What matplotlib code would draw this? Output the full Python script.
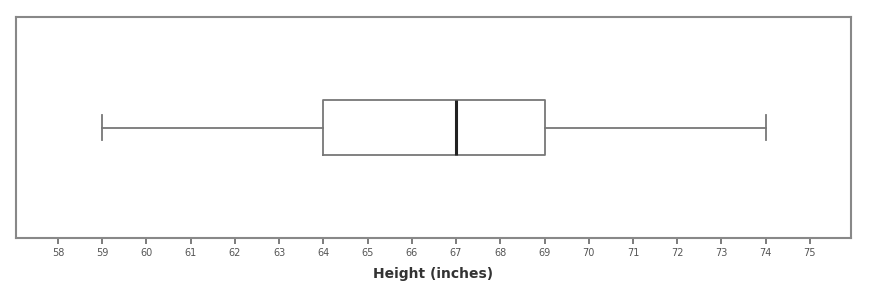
import matplotlib
matplotlib.use("Agg")
import matplotlib.pyplot as plt

# Resumen de cinco números
whisker_low = 59
q1 = 64
median = 67
q3 = 69
whisker_high = 74
tick_values = list(range(58, 76))

stats = [{"whislo": whisker_low, "q1": q1, "med": median, "q3": q3,
          "whishi": whisker_high, "fliers": [], "label": ""}]

fig = plt.figure(figsize=(8.75, 2.93), dpi=100)
ax = fig.add_axes([16 / 875, 1 - 238 / 293, 835 / 875, 221 / 293])

grey = "#777777"
ax.bxp(stats, positions=[0.5], widths=0.253, capwidths=0.11, vert=False,
       showfliers=False,
       boxprops=dict(color=grey, linewidth=1.3),
       whiskerprops=dict(color=grey, linewidth=1.3),
       capprops=dict(color=grey, linewidth=1.3),
       medianprops=dict(color="#222222", linewidth=2.2))

ax.set_ylim(0, 1)
ax.set_xlim(57.05, 75.93)
ax.set_yticks([])
ax.set_xticks(tick_values)
ax.set_xticklabels([str(v) for v in tick_values])
ax.tick_params(axis="x", direction="out", length=4, width=1.2, color="#666666",
               labelsize=7, labelcolor="#555555", pad=3)

for s in ax.spines.values():
    s.set_color("#888888")
    s.set_linewidth(1.5)

ax.set_xlabel("Height (inches)", fontsize=10, fontweight="bold", color="#333333",
              labelpad=7)

fig.savefig("out.png", dpi=100)
